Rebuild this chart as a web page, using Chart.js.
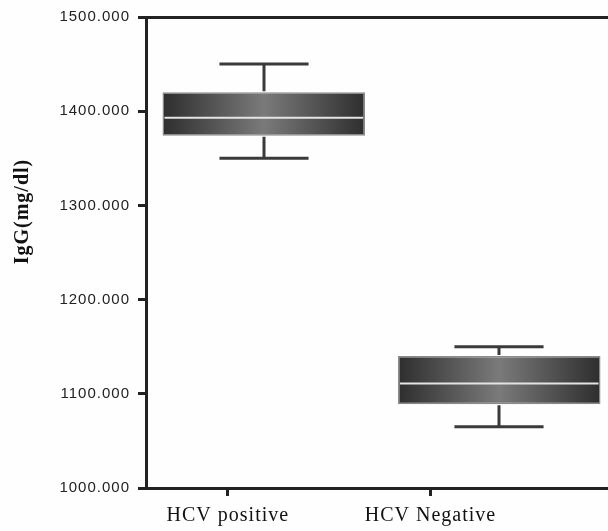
<!DOCTYPE html>
<html>
<head>
<meta charset="utf-8">
<script src="https://cdn.jsdelivr.net/npm/chart.js@4.4.1/dist/chart.umd.min.js"></script>
<style>
html, body { margin: 0; padding: 0; overflow: hidden; background: #fefefe; }
canvas { display: block; }
</style>
</head>
<body>
<canvas id="c" width="620" height="531"></canvas>
<script>
const categories = ['HCV positive', 'HCV Negative'];
const q1 = [1374, 1089];
const q3 = [1420, 1140];
const medians = [1393, 1111];
const whiskerLow = [1350, 1065];
const whiskerHigh = [1450, 1150];
const yTicks = [1000, 1100, 1200, 1300, 1400, 1500];
const yTitle = 'IgG(mg/dl)';

const BAR_PCT = 0.86;

const boxData = categories.map((c, i) => [q1[i], q3[i]]);

function boxGradient(ctx) {
  const chart = ctx.chart;
  const xs = chart.scales.x;
  if (!xs || !chart.chartArea || ctx.type !== 'data') return '#555';
  const cx = xs.getPixelForValue(ctx.dataIndex);
  const half = (xs.width / categories.length) * BAR_PCT / 2;
  const g = chart.ctx.createLinearGradient(cx - half, 0, cx + half, 0);
  g.addColorStop(0, '#2e2e2e');
  g.addColorStop(0.5, '#7a7a7a');
  g.addColorStop(1, '#2e2e2e');
  return g;
}

const spacingPlugin = {
  id: 'spacing',
  beforeDraw(chart) {
    chart.ctx.letterSpacing = '1px';
  }
};

const boxPlugin = {
  id: 'boxparts',
  afterDatasetsDraw(chart) {
    const ctx = chart.ctx;
    const ys = chart.scales.y;
    const meta = chart.getDatasetMeta(0);
    ctx.save();
    meta.data.forEach((bar, i) => {
      const cx = Math.round(bar.x);
      const capHalf = bar.width * 0.22;
      ctx.strokeStyle = '#3a3a3a';
      ctx.lineWidth = 3;
      ctx.lineCap = 'butt';
      const yHi = ys.getPixelForValue(whiskerHigh[i]);
      const yQ3 = ys.getPixelForValue(q3[i]);
      const yLo = ys.getPixelForValue(whiskerLow[i]);
      const yQ1 = ys.getPixelForValue(q1[i]);
      ctx.beginPath();
      ctx.moveTo(cx, yQ3 - 1); ctx.lineTo(cx, yHi);
      ctx.moveTo(cx - capHalf, yHi); ctx.lineTo(cx + capHalf, yHi);
      ctx.moveTo(cx, yQ1 + 1); ctx.lineTo(cx, yLo);
      ctx.moveTo(cx - capHalf, yLo); ctx.lineTo(cx + capHalf, yLo);
      ctx.stroke();
      const yMed = ys.getPixelForValue(medians[i]);
      ctx.strokeStyle = '#e4e4e4';
      ctx.lineWidth = 2;
      ctx.beginPath();
      ctx.moveTo(bar.x - bar.width / 2 + 2, yMed);
      ctx.lineTo(bar.x + bar.width / 2 - 2, yMed);
      ctx.stroke();
    });
    ctx.restore();
  },
  afterDraw(chart) {
    const ctx = chart.ctx;
    const area = chart.chartArea;
    ctx.save();
    ctx.letterSpacing = '1px';
    ctx.translate(23, area.top + (area.bottom - area.top) * 0.413);
    ctx.rotate(-Math.PI / 2);
    ctx.font = 'bold 20px "Liberation Serif"';
    ctx.fillStyle = '#111';
    ctx.textAlign = 'center';
    ctx.textBaseline = 'middle';
    ctx.fillText(yTitle, 0, 0);
    ctx.restore();
  }
};

new Chart(document.getElementById('c'), {
  type: 'bar',
  data: {
    labels: categories,
    datasets: [{
      data: boxData,
      backgroundColor: boxGradient,
      borderColor: '#8a8a8a',
      borderWidth: 1.5,
      borderSkipped: false,
      barPercentage: BAR_PCT,
      categoryPercentage: 1
    }]
  },
  options: {
    responsive: false,
    animation: false,
    devicePixelRatio: 1,
    layout: { padding: { left: 0, right: 3, top: 0, bottom: 0 } },
    plugins: { legend: { display: false }, tooltip: { enabled: false } },
    scales: {
      x: {
        type: 'category',
        display: false,
        offset: true
      },
      xLab: {
        type: 'linear',
        position: 'bottom',
        offset: false,
        min: 0.596,
        max: 2.921,
        afterBuildTicks(scale) { scale.ticks = categories.map((c, i) => ({ value: i + 1 })); },
        afterFit(scale) { scale.height = 43; },
        grid: { display: true, offset: false, drawOnChartArea: false, drawTicks: true, tickLength: 8, tickWidth: 3, tickColor: '#222' },
        border: { display: true, color: '#222', width: 3 },
        ticks: {
          autoSkip: false,
          maxRotation: 0,
          padding: 8,
          color: '#111',
          font: { family: '"Liberation Serif"', size: 20 },
          callback: (v) => categories[Math.round(v) - 1] || ''
        }
      },
      xTop: {
        type: 'linear',
        position: 'top',
        offset: false,
        min: 0, max: 1,
        afterFit(scale) { scale.height = 15; },
        grid: { display: false, offset: false, drawTicks: false },
        border: { display: true, color: '#222', width: 3 },
        ticks: { display: false }
      },
      y: {
        type: 'linear',
        min: 1000,
        max: 1500,
        afterBuildTicks(scale) { scale.ticks = yTicks.map(v => ({ value: v })); },
        afterFit(scale) { scale.width = 146; },
        grid: { display: true, drawOnChartArea: false, drawTicks: true, tickLength: 8, tickWidth: 3, tickColor: '#222' },
        border: { display: true, color: '#222', width: 3 },
        ticks: {
          padding: 8,
          color: '#222',
          font: { family: '"Liberation Sans"', size: 15 },
          callback: (v) => Number(v).toFixed(3)
        }
      }
    }
  },
  plugins: [spacingPlugin, boxPlugin]
});
</script>
</body>
</html>
